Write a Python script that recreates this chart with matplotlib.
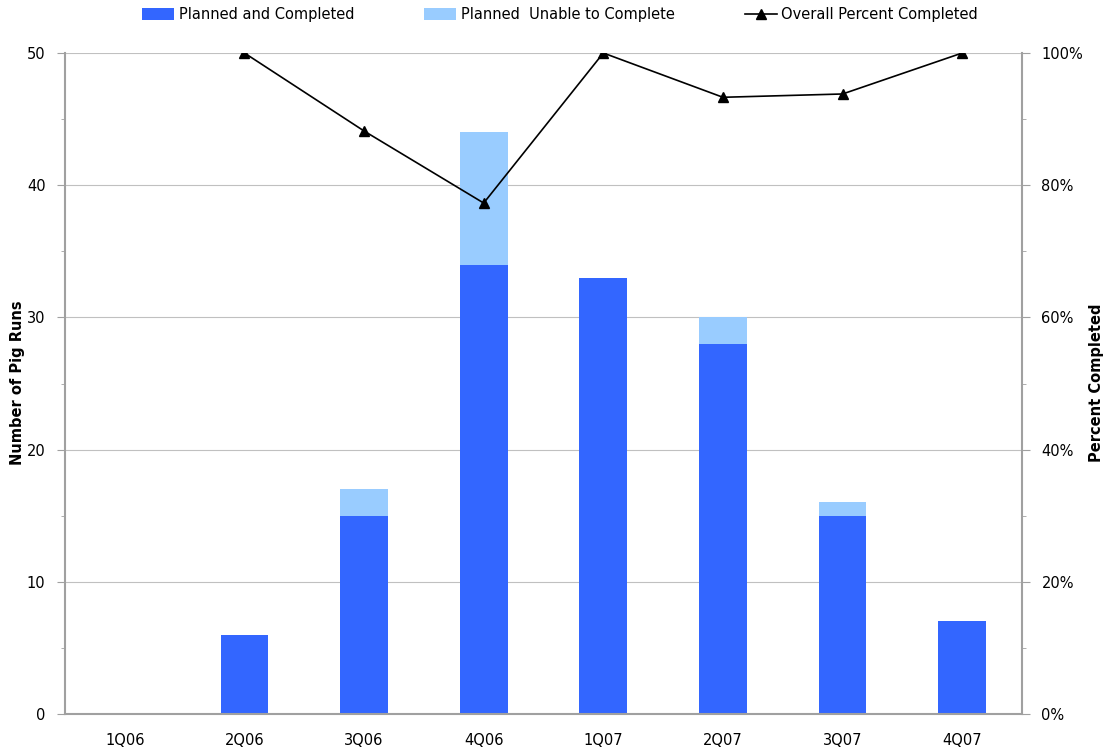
import numpy as np
import matplotlib.pyplot as plt
from matplotlib.ticker import MultipleLocator, FuncFormatter

quarters = ['1Q06', '2Q06', '3Q06', '4Q06', '1Q07', '2Q07', '3Q07', '4Q07']
completed = [0, 6, 15, 34, 33, 28, 15, 7]
unable = [0, 0, 2, 10, 0, 2, 1, 0]
pct_completed = [np.nan, 100, 88.2, 77.3, 100, 93.3, 93.8, 100]

plt.rcParams['font.family'] = 'DejaVu Sans'
fig = plt.figure(figsize=(11.09, 7.55), dpi=100)
ax = fig.add_axes([65 / 1109, 41 / 755, 957 / 1109, 661 / 755])
x = np.arange(len(quarters))

b1 = ax.bar(x, completed, width=0.4, color='#3366FF', zorder=2,
            label='Planned and Completed')
b2 = ax.bar(x, unable, width=0.4, bottom=completed, color='#99CCFF', zorder=2,
            label='Planned  Unable to Complete')
ax.set_xlim(-0.5, len(quarters) - 0.5)
ax.set_ylim(0, 50)
ax.yaxis.set_major_locator(MultipleLocator(10))
ax.yaxis.set_minor_locator(MultipleLocator(5))
ax.grid(axis='y', color='#C0C0C0', linewidth=0.8, zorder=0)
ax.set_xticks(x)
ax.set_xticklabels(quarters)
ax.tick_params(axis='x', length=0, pad=14, labelsize=10.5)
ax.tick_params(axis='y', which='major', length=6, color='#A0A0A0', labelsize=10.5,
               pad=8)
ax.tick_params(axis='y', which='minor', length=3, color='#A0A0A0')
for s in ['top', 'right']:
    ax.spines[s].set_visible(False)
for s in ['left', 'bottom']:
    ax.spines[s].set_color('#A0A0A0')
    ax.spines[s].set_linewidth(1.5)

ax2 = ax.twinx()
ln, = ax2.plot(x, pct_completed, color='black', marker='^', markersize=7,
               linewidth=1.2, label='Overall Percent Completed', zorder=3)
ax2.set_ylim(0, 100)
ax2.yaxis.set_major_locator(MultipleLocator(20))
ax2.yaxis.set_minor_locator(MultipleLocator(10))
ax2.yaxis.set_major_formatter(FuncFormatter(lambda v, p: f'{v:.0f}%'))
ax2.tick_params(axis='y', which='major', length=6, color='#A0A0A0', labelsize=10.5,
                pad=8)
ax2.tick_params(axis='y', which='minor', length=3, color='#A0A0A0')
for s in ['top', 'left', 'bottom']:
    ax2.spines[s].set_visible(False)
ax2.spines['right'].set_color('#A0A0A0')
ax2.spines['right'].set_linewidth(1.5)

fig.text(18 / 1109, 1 - 383 / 755, 'Number of Pig Runs', rotation=90,
         ha='center', va='center', fontweight='bold', fontsize=10.5)
fig.text(1097 / 1109, 1 - 383 / 755, 'Percent Completed', rotation=90,
         ha='center', va='center', fontweight='bold', fontsize=10.5)

fig.legend([b1, b2, ln], [b1.get_label(), b2.get_label(), ln.get_label()],
           loc='upper center', bbox_to_anchor=(0.505, 1.008), ncol=3,
           frameon=False, fontsize=10.5, columnspacing=4.8, handlelength=2.2,
           handleheight=0.8, handletextpad=0.3)

fig.savefig('out.png', dpi=100)
